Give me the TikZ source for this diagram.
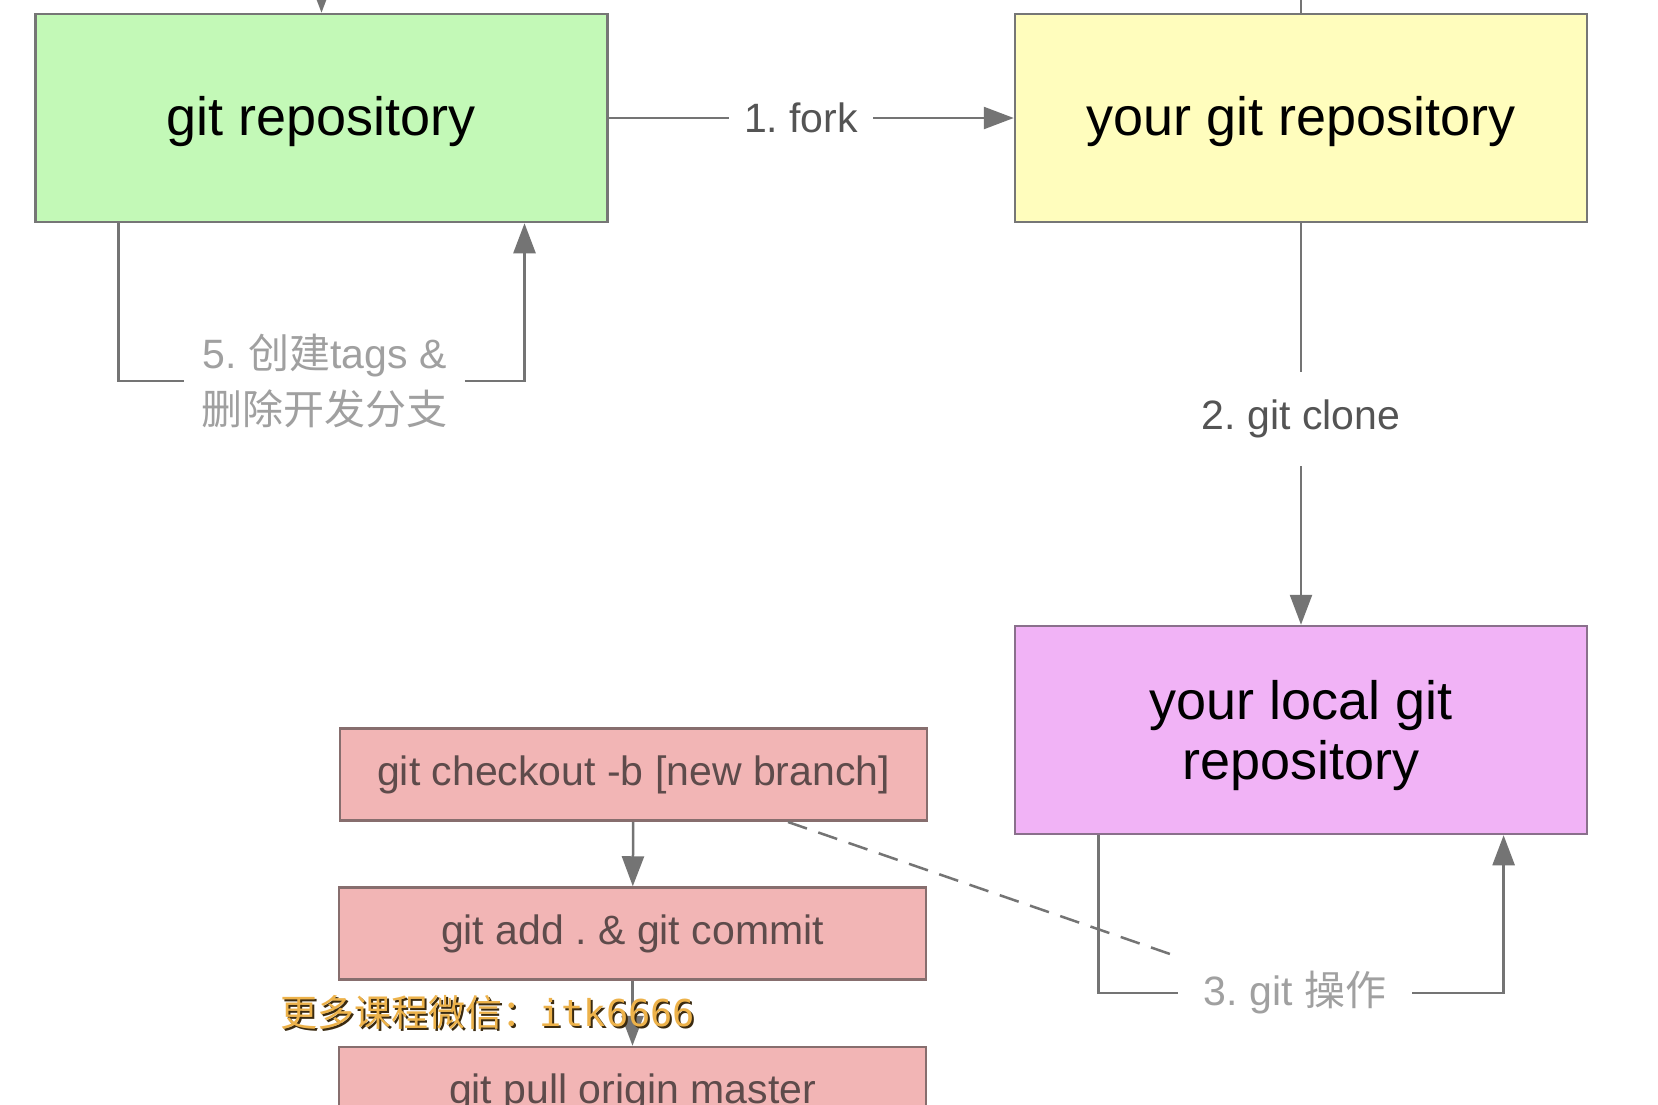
\documentclass[tikz,border=0pt]{standalone}
\usepackage{fontspec}
\setmainfont{Liberation Sans}
\newfontfamily\cjk{Noto Sans CJK SC}
\newfontfamily\wmmono{DejaVu Sans Mono}
\usetikzlibrary{arrows.meta}
\frenchspacing
\definecolor{greenfill}{HTML}{C3F9B7}
\definecolor{yellowfill}{HTML}{FFFDBD}
\definecolor{purplefill}{HTML}{F1B3F6}
\definecolor{pinkfill}{HTML}{F2B5B5}
\definecolor{boxborder}{HTML}{767676}
\definecolor{pinkborder}{HTML}{876E6E}
\definecolor{purpleborder}{HTML}{8A708C}
\definecolor{linegray}{HTML}{747474}
\definecolor{labeldark}{HTML}{545454}
\definecolor{labellight}{HTML}{A0A0A0}
\definecolor{pinktext}{HTML}{5E4B4B}
\definecolor{wmgold}{HTML}{EDB24A}
\definecolor{wmdark}{HTML}{3A2A10}
\begin{document}
\begin{tikzpicture}[x=1pt,y=-1pt,
  box/.style={draw=boxborder, line width=2.5pt, minimum width=572pt, minimum height=208pt,
    inner sep=0pt, text=black, font=\fontsize{54}{60}\selectfont, align=center},
  cmd/.style={draw=pinkborder, fill=pinkfill, line width=2.5pt, minimum width=587pt,
    minimum height=92pt, inner sep=0pt, text=pinktext, font=\fontsize{41}{48}\selectfont},
  conn/.style={draw=linegray, line width=2.5pt},
  arr/.style={conn, -{Triangle[length=30pt,width=22pt]}},
  lbl/.style={text=labeldark, font=\fontsize{41}{56}\selectfont, inner xsep=15pt, inner ysep=4pt, align=center},
  lbllight/.style={lbl, text=labellight},
  dashedline/.style={draw=linegray, line width=2.5pt, dash pattern=on 20pt off 12pt},
  wm/.style={font=\cjk\fontsize{37}{40}\selectfont, inner sep=0pt}
]
\useasboundingbox (0,0) rectangle (1658,1104);
\clip (0,0) rectangle (1658,1104);
\fill[white] (0,0) rectangle (1658,1104);

% main boxes
\node[box, fill=greenfill] (green) at (321.5,118) {\rule{0pt}{46pt}git repository};
\node[box, fill=yellowfill] (yellow) at (1301,118) {\rule{0pt}{46pt}your git repository};
\node[box, fill=purplefill, draw=purpleborder] (local) at (1301,730) {\rule{0pt}{51pt}your local git\\repository};

% command boxes
\node[cmd] (c1) at (633.5,774.5) {git checkout -b [new branch]};
\node[cmd] (c2) at (632.5,933.5) {git add . \& git commit};
\node[cmd] (c3) at (632.5,1093) {git pull origin master};

% off-picture ends
\coordinate (gtop) at (321.5,-40);
\coordinate (ytop) at (1301,-40);
\draw[arr] (gtop) -- (green.north);
\draw[conn] (yellow.north) -- (ytop);

% 1. fork
\node[lbl] (l1) at (801,118) {1. fork};
\draw[conn] (green.east) -- (l1.west);
\draw[arr] (l1.east) -- (yellow.west);

% 2. git clone
\node[lbl, inner ysep=28pt] (l2) at (1301,419) {2. git clone};
\draw[conn] (yellow.south) -- (l2.north);
\draw[arr] (l2.south) -- (local.north);

% 5. loop
\node[lbllight, inner xsep=17pt, inner ysep=0pt] (l5) at (324.6,381) {5. {\cjk 创建}tags \&\\{\cjk 删除开发分支}};
\draw[conn] ([xshift=-203pt]green.south) |- (l5.west);
\draw[arr] (l5.east) -| ([xshift=203pt]green.south);

% 3. loop
\node[lbllight, inner xsep=26pt] (l3) at (1295,993) {3. git {\cjk 操作}};
\draw[conn] ([xshift=-202.4pt]local.south) |- (l3.west);
\draw[arr] (l3.east) -| ([xshift=202.6pt]local.south);

% dashed link
\coordinate (d1) at (788,822);
\draw[dashedline] (d1) -- ([xshift=2pt,yshift=10pt]l3.north west);

% command arrows
\draw[arr] (c1) -- (c2);
\draw[arr] (c2) -- (c3);

% watermark
\node[wm, text=wmdark, anchor=west] (wmshadow) at (282,1014) {更多课程微信：{\wmmono itk6666}};
\node[wm, text=wmgold, anchor=west] (wmtext) at (280,1012) {更多课程微信：{\wmmono itk6666}};
\end{tikzpicture}
\end{document}
